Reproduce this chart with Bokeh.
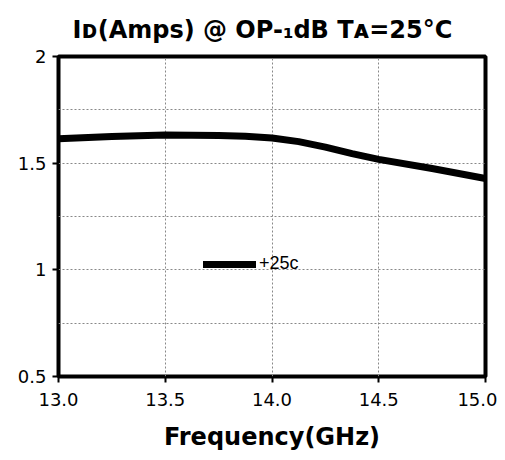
from bokeh.plotting import figure
from bokeh.models import FixedTicker, Legend, LegendItem, NumeralTickFormatter, Range1d
from bokeh.embed import file_html
from bokeh.resources import INLINE

freq_ghz = [13.0, 13.25, 13.5, 13.75, 13.875, 14.0, 14.125, 14.25, 14.375, 14.5, 14.75, 15.0]
id_amps_25c = [1.615, 1.625, 1.632, 1.63, 1.626, 1.618, 1.601, 1.575, 1.545, 1.518, 1.475, 1.428]
x_ticks = [13.0, 13.5, 14.0, 14.5, 15.0]
y_ticks = [0.5, 1.0, 1.5, 2.0]
y_grid = [0.75, 1.0, 1.25, 1.5, 1.75]
x_grid = [13.5, 14.0, 14.5]
series_label = "+25c"

p = figure(width=497, height=453, output_backend="svg", toolbar_location=None,
           x_range=Range1d(13.0, 15.0), y_range=Range1d(0.5, 2.0),
           title="I\u1d05(Amps) @ OP-\u2081dB T\u1d00=25\u00b0C",
           min_border_left=58, min_border_right=12, min_border_top=56, min_border_bottom=10)

p.title.align = "left"
p.title.offset = 14
p.title.text_font = "DejaVu Sans"
p.title.text_font_size = "24px"
p.title.text_font_style = "bold"
p.title.text_color = "black"
p.title.standoff = 26

p.outline_line_color = "black"
p.outline_line_width = 4
p.outline_line_alpha = 1

r = p.line(freq_ghz, id_amps_25c, line_color="black", line_width=7, line_cap="round", line_join="round")

p.xaxis.ticker = FixedTicker(ticks=x_ticks)
p.xaxis.formatter = NumeralTickFormatter(format="0.0")
p.yaxis.ticker = FixedTicker(ticks=y_ticks)
p.yaxis.formatter = NumeralTickFormatter(format="0.[0]")
for ax in (p.xaxis, p.yaxis):
    ax.axis_line_color = None
    ax.major_tick_line_color = "black"
    ax.major_tick_line_width = 2
    ax.major_tick_out = 6
    ax.major_tick_in = 0
    ax.minor_tick_line_color = None
    ax.major_label_text_font = "DejaVu Sans"
    ax.major_label_text_font_size = "18px"
    ax.major_label_text_color = "black"
p.xaxis.axis_label = "Frequency(GHz)"
p.xaxis.axis_label_text_font = "DejaVu Sans"
p.xaxis.axis_label_text_font_size = "24px"
p.xaxis.axis_label_text_font_style = "bold"
p.xaxis.axis_label_text_color = "black"
p.xaxis.axis_label_standoff = 14
p.xaxis.major_label_standoff = 10
p.yaxis.major_label_standoff = 6

p.xgrid.ticker = FixedTicker(ticks=x_grid)
p.ygrid.ticker = FixedTicker(ticks=y_grid)
for g in (p.xgrid, p.ygrid):
    g.grid_line_color = "#888888"
    g.grid_line_dash = "2 2"
    g.grid_line_width = 1

legend = Legend(items=[LegendItem(label=series_label, renderers=[r])],
                location=(145, 102), padding=0, margin=0, spacing=0,
                glyph_width=53, glyph_height=20, label_standoff=3,
                background_fill_alpha=0, border_line_color=None,
                label_text_font="Liberation Sans", label_text_font_size="18px",
                label_text_color="black")
p.add_layout(legend, "center")

open("out.html", "w").write(file_html(p, INLINE))
